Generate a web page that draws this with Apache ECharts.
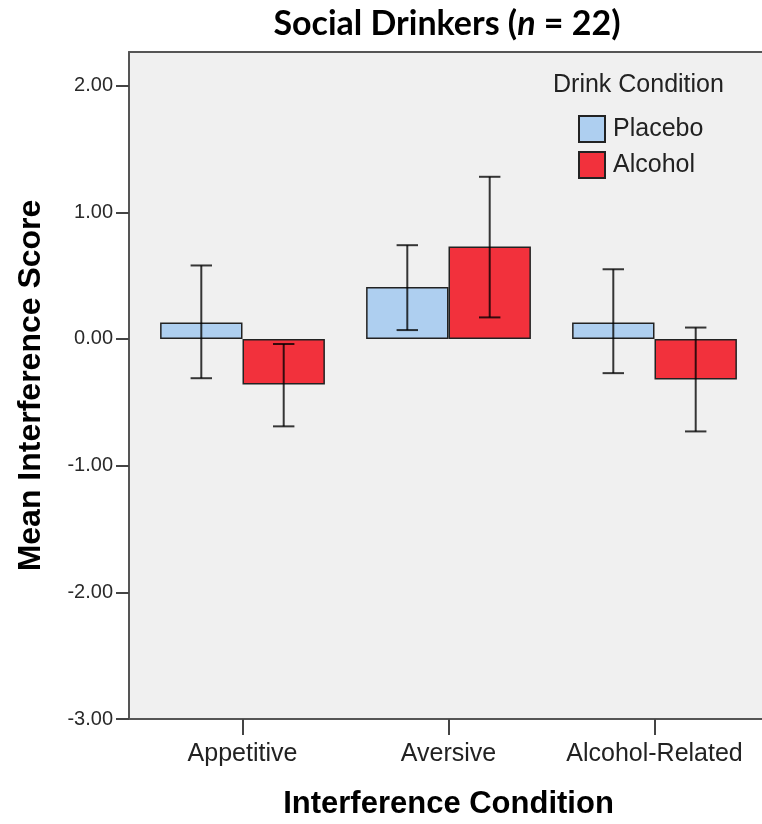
<!DOCTYPE html>
<html>
<head>
<meta charset="utf-8">
<script src="https://cdn.jsdelivr.net/npm/echarts@6/dist/echarts.min.js"></script>
<style>
html,body{margin:0;padding:0;background:#fff;}
#chart{width:762px;height:824px;}
</style>
</head>
<body>
<div id="chart"></div>
<script>
const categories = ['Appetitive', 'Aversive', 'Alcohol-Related'];
const seriesNames = ['Placebo', 'Alcohol'];
const placeboMean = [0.13, 0.41, 0.13];
const alcoholMean = [-0.36, 0.73, -0.32];
const placeboLow = [-0.31, 0.07, -0.27];
const placeboHigh = [0.58, 0.74, 0.55];
const alcoholLow = [-0.69, 0.17, -0.73];
const alcoholHigh = [-0.04, 1.28, 0.09];
const yTicks = [-3, -2, -1, 0, 1, 2];
const yMin = -3, yMax = 2.265;

const FONT = "'Liberation Sans', Arial, sans-serif";
const colors = ['#aecff0', '#f2313c'];

function errData(low, high) {
  return categories.map((c, i) => [i, low[i], high[i]]);
}

function makeErrRender(side) {
  return function (params, api) {
    const x = api.value(0);
    const band = api.size([1, 0])[0];
    const off = side * band * 0.2;
    const cap = band * 0.052;
    const lo = api.coord([x, api.value(1)]);
    const hi = api.coord([x, api.value(2)]);
    const cx = lo[0] + off;
    const style = { stroke: 'rgba(0,0,0,0.78)', lineWidth: 2 };
    return {
      type: 'group',
      children: [
        { type: 'line', shape: { x1: cx, y1: lo[1], x2: cx, y2: hi[1] }, style },
        { type: 'line', shape: { x1: cx - cap, y1: lo[1], x2: cx + cap, y2: lo[1] }, style },
        { type: 'line', shape: { x1: cx - cap, y1: hi[1], x2: cx + cap, y2: hi[1] }, style }
      ]
    };
  };
}

const frameLine = { show: true, onZero: false, lineStyle: { color: '#555', width: 2 } };

const chart = echarts.init(document.getElementById('chart'), null, { renderer: 'canvas' });
chart.setOption({
  backgroundColor: '#ffffff',
  animation: false,
  title: [
    {
      text: '{a|Social Drinkers (}{b|n}{a| = 22)}',
      left: 447, top: 7, textAlign: 'center', padding: 0,
      textStyle: {
        rich: {
          a: { fontFamily: 'Lato, sans-serif', fontWeight: 'bold', fontSize: 34, color: '#000' },
          b: { fontFamily: 'Lato, sans-serif', fontWeight: 'bold', fontStyle: 'italic', fontSize: 34, color: '#000' }
        }
      }
    },
    {
      text: 'Drink Condition',
      left: 553, top: 73, padding: 0,
      textStyle: { fontFamily: FONT, fontWeight: 'normal', fontSize: 25, color: '#222' }
    }
  ],
  legend: {
    data: seriesNames,
    orient: 'vertical',
    left: 578, top: 115,
    padding: 0,
    itemWidth: 26, itemHeight: 26, itemGap: 8,
    icon: 'rect',
    textStyle: { fontFamily: FONT, fontSize: 25, color: '#222', padding: [0, 0, 0, 3] }
  },
  grid: [
    { left: 129, right: 0, top: 52, bottom: 105, outerBoundsMode: 'none', containLabel: false,
      show: true, backgroundColor: '#f0f0f0', borderWidth: 0 },
    { left: 139.5, right: 4.5, top: 52, bottom: 105, outerBoundsMode: 'none', containLabel: false, show: false }
  ],
  xAxis: [
    { gridIndex: 0, type: 'value', min: 0, max: 1, position: 'top',
      axisLine: frameLine, axisTick: { show: false }, axisLabel: { show: false }, splitLine: { show: false } },
    {
      gridIndex: 1, type: 'category', data: categories, position: 'bottom',
      axisLine: { show: false, onZero: false },
      axisTick: { show: true, alignWithLabel: true, length: 16, lineStyle: { color: '#444', width: 2 } },
      axisLabel: { interval: 0, fontFamily: FONT, fontSize: 25, color: '#222', margin: 23 },
      name: 'Interference Condition', nameLocation: 'middle', nameGap: 70,
      nameTextStyle: { fontFamily: FONT, fontWeight: 'bold', fontSize: 31, color: '#000' }
    },
    { gridIndex: 0, type: 'value', min: 0, max: 1, position: 'bottom',
      axisLine: frameLine, axisTick: { show: false }, axisLabel: { show: false }, splitLine: { show: false } }
  ],
  yAxis: [
    {
      gridIndex: 0, type: 'value', min: yMin, max: yMax,
      axisLine: frameLine,
      axisTick: { show: true, length: 13, customValues: yTicks, lineStyle: { color: '#444', width: 2 } },
      axisLabel: { customValues: yTicks, fontFamily: FONT, fontSize: 20, color: '#2a2a2a', margin: 16, formatter: v => v.toFixed(2) },
      splitLine: { show: false },
      name: 'Mean Interference Score', nameLocation: 'middle', nameGap: 82,
      nameTextStyle: { fontFamily: FONT, fontWeight: 'bold', fontSize: 32, color: '#000' }
    },
    { gridIndex: 1, type: 'value', min: yMin, max: yMax, show: false, splitLine: { show: false } }
  ],
  series: [
    {
      name: seriesNames[0], type: 'bar', xAxisIndex: 1, yAxisIndex: 1,
      data: placeboMean, barGap: '0%', barCategoryGap: '20%',
      itemStyle: { color: colors[0], borderColor: '#222', borderWidth: 1.5 }
    },
    {
      name: seriesNames[1], type: 'bar', xAxisIndex: 1, yAxisIndex: 1,
      data: alcoholMean, barGap: '0%', barCategoryGap: '20%',
      itemStyle: { color: colors[1], borderColor: '#222', borderWidth: 1.5 }
    },
    {
      name: 'Placebo CI', type: 'custom', xAxisIndex: 1, yAxisIndex: 1, z: 5,
      data: errData(placeboLow, placeboHigh), renderItem: makeErrRender(-1),
      encode: { x: 0, y: [1, 2] }
    },
    {
      name: 'Alcohol CI', type: 'custom', xAxisIndex: 1, yAxisIndex: 1, z: 5,
      data: errData(alcoholLow, alcoholHigh), renderItem: makeErrRender(1),
      encode: { x: 0, y: [1, 2] }
    }
  ]
});
</script>
</body>
</html>
